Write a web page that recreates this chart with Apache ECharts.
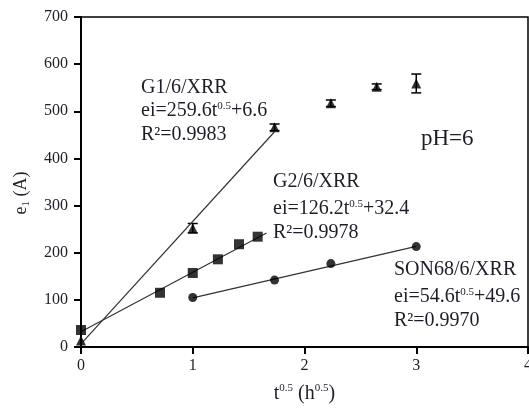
<!DOCTYPE html>
<html>
<head>
    <meta charset="utf-8">
    <title>ei vs t^0.5</title>
    <script src="https://cdn.jsdelivr.net/npm/echarts@6/dist/echarts.min.js"></script>
    <style>
        html, body { margin: 0; padding: 0; background: #fff; }
        #chart { width: 529px; height: 411px; }
    </style>
</head>
<body>
    <div id="chart"></div>
    <script type="text/javascript">
    // G1/6/XRR (triangles, with error bars)
    var g1X = [0, 1, 1.732, 2.236, 2.646, 3];
    var g1Y = [14, 252, 466, 517, 552, 559];
    var g1Err = [0, 10, 7, 7, 6, 20];
    // G2/6/XRR (squares)
    var g2X = [0, 0.707, 1, 1.225, 1.414, 1.581];
    var g2Y = [36, 115, 157, 186, 218, 234];
    // SON68/6/XRR (circles)
    var sonX = [1, 1.732, 2.236, 3];
    var sonY = [105, 142, 177, 213];
    // fitted lines, end points
    var g1FitX = [0, 1.73];
    var g1FitY = [6.6, 456];
    var g2FitX = [0, 1.66];
    var g2FitY = [32.4, 242];
    var sonFitX = [1, 3];
    var sonFitY = [104.2, 213.4];
    // ticks
    var xTicks = [0, 1, 2, 3, 4];
    var yTicks = [0, 100, 200, 300, 400, 500, 600, 700];

    function pairs(xs, ys) {
        var out = [];
        for (var i = 0; i < xs.length; i++) out.push([xs[i], ys[i]]);
        return out;
    }

    var errData = [];
    for (var i = 0; i < g1X.length; i++) {
        if (g1Err[i] > 0) errData.push([g1X[i], g1Y[i] - g1Err[i], g1Y[i] + g1Err[i]]);
    }

    var FONT = '"Liberation Serif", "DejaVu Serif", serif';
    var TXT = '#1e1e28';

    function label(x, y, text, size) {
        return {
            type: 'text', left: x, top: y,
            style: {
                text: text, fill: TXT, font: (size || 20) + 'px ' + FONT,
                rich: {
                    s: { fontSize: 11, fontFamily: FONT, fill: TXT, verticalAlign: 'top', lineHeight: 20 },
                    n: { fontSize: 20, fontFamily: FONT, fill: TXT, lineHeight: 20 }
                }
            }
        };
    }

    var myChart = echarts.init(document.getElementById('chart'));

    var option = {
        animation: false,
        backgroundColor: '#fff',
        grid: {
            left: 81, right: 1, top: 17, bottom: 64,
            outerBoundsMode: 'none', containLabel: false,
            show: true, borderColor: '#000', borderWidth: 1.5
        },
        xAxis: {
            type: 'value', min: xTicks[0], max: xTicks[xTicks.length - 1], interval: 1,
            name: '{n|t}{s|0.5}{n| (h}{s|0.5}{n|)}',
            nameLocation: 'middle', nameGap: 36,
            nameTextStyle: {
                rich: {
                    n: { fontSize: 20, fontFamily: FONT, color: TXT, lineHeight: 22 },
                    s: { fontSize: 11, fontFamily: FONT, color: TXT, verticalAlign: 'top', lineHeight: 22 }
                }
            },
            axisLine: { onZero: false, lineStyle: { color: '#000', width: 2 } },
            axisTick: { inside: false, length: 7, lineStyle: { color: '#000', width: 2 } },
            axisLabel: { margin: 11, fontSize: 16, fontFamily: FONT, color: TXT },
            splitLine: { show: false }
        },
        yAxis: {
            type: 'value', min: yTicks[0], max: yTicks[yTicks.length - 1], interval: 100,
            axisLine: { onZero: false, lineStyle: { color: '#000', width: 2 } },
            axisTick: { inside: false, length: 7, lineStyle: { color: '#000', width: 2 } },
            axisLabel: { margin: 13, fontSize: 16, fontFamily: FONT, color: TXT },
            splitLine: { show: false }
        },
        series: [
            {
                name: 'G1 fit', type: 'line', data: pairs(g1FitX, g1FitY),
                showSymbol: false, lineStyle: { color: '#333', width: 1.2 }, silent: true
            },
            {
                name: 'G2 fit', type: 'line', data: pairs(g2FitX, g2FitY),
                showSymbol: false, lineStyle: { color: '#333', width: 1.2 }, silent: true
            },
            {
                name: 'SON68 fit', type: 'line', data: pairs(sonFitX, sonFitY),
                showSymbol: false, lineStyle: { color: '#333', width: 1.2 }, silent: true
            },
            {
                name: 'G1 err', type: 'custom', data: errData,
                renderItem: function (params, api) {
                    var lo = api.coord([api.value(0), api.value(1)]);
                    var hi = api.coord([api.value(0), api.value(2)]);
                    var w = 5;
                    var st = { stroke: '#000', lineWidth: 1.5 };
                    return {
                        type: 'group',
                        children: [
                            { type: 'line', shape: { x1: lo[0], y1: lo[1], x2: hi[0], y2: hi[1] }, style: st },
                            { type: 'line', shape: { x1: lo[0] - w, y1: lo[1], x2: lo[0] + w, y2: lo[1] }, style: st },
                            { type: 'line', shape: { x1: hi[0] - w, y1: hi[1], x2: hi[0] + w, y2: hi[1] }, style: st }
                        ]
                    };
                },
                z: 3
            },
            {
                name: 'G1', type: 'scatter', data: pairs(g1X, g1Y),
                symbol: 'triangle', symbolSize: 10, itemStyle: { color: '#000' }, z: 4
            },
            {
                name: 'G2', type: 'scatter', data: pairs(g2X, g2Y),
                symbol: 'rect', symbolSize: 10, itemStyle: { color: '#000' }, z: 4
            },
            {
                name: 'SON68', type: 'scatter', data: pairs(sonX, sonY),
                symbol: 'circle', symbolSize: 9, itemStyle: { color: '#000' }, z: 4
            }
        ],
        graphic: [
            // y axis title, rotated
            {
                type: 'text', x: 21, y: 193, rotation: Math.PI / 2,
                style: {
                    text: '{n|e}{b|1}{n| (A)}', align: 'center', verticalAlign: 'middle',
                    rich: {
                        n: { fontSize: 18, fontFamily: FONT, fill: TXT, lineHeight: 22 },
                        b: { fontSize: 11, fontFamily: FONT, fill: TXT, verticalAlign: 'bottom', lineHeight: 22 }
                    }
                }
            },
            label(141, 78, '{n|G1/6/XRR}'),
            label(141, 101, '{n|ei=259.6t}{s|0.5}{n|+6.6}'),
            label(141, 125, '{n|R²=0.9983}'),
            label(273, 172, '{n|G2/6/XRR}'),
            label(273, 199, '{n|ei=126.2t}{s|0.5}{n|+32.4}'),
            label(273, 223, '{n|R²=0.9978}'),
            label(394, 260, '{n|SON68/6/XRR}'),
            label(394, 287, '{n|ei=54.6t}{s|0.5}{n|+49.6}'),
            label(394, 311, '{n|R²=0.9970}'),
            {
                type: 'text', left: 421, top: 127,
                style: { text: 'pH=6', fill: TXT, font: '23px ' + FONT }
            }
        ]
    };

    myChart.setOption(option);
    </script>
</body>
</html>
